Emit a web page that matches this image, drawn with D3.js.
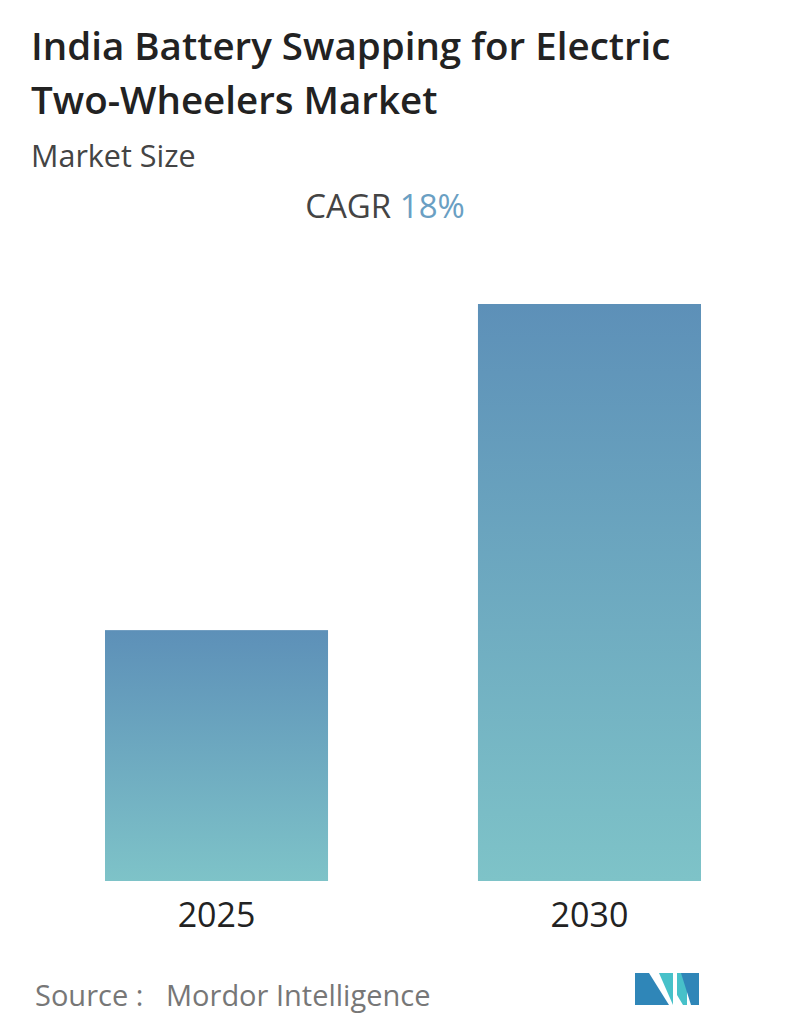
<!DOCTYPE html><html><head><meta charset="utf-8"><script src="https://cdn.jsdelivr.net/npm/d3@7"></script>
<style>body{margin:0;background:#fff}text{font-family:"Open Sans",sans-serif}</style></head><body>
<svg id="c" width="796" height="1034"></svg>
<script>
const categories=["2025","2030"];
const values=[1,2.3];
const svg=d3.select("#c");
const defs=svg.append("defs");
const g=defs.append("linearGradient").attr("id","gr").attr("x1",0).attr("y1",0).attr("x2",0).attr("y2",1);
g.append("stop").attr("offset","0%").attr("stop-color","#5d90b8");
g.append("stop").attr("offset","100%").attr("stop-color","#7ec3c8");
svg.append("text").attr("x",31).attr("y",60).attr("font-size",38.5).attr("font-weight",600).attr("fill","#222").text("India Battery Swapping for Electric");
svg.append("text").attr("x",31).attr("y",114).attr("font-size",38.5).attr("font-weight",600).attr("fill","#222").text("Two-Wheelers Market");
svg.append("text").attr("x",31).attr("y",167).attr("font-size",30.5).attr("fill","#444").text("Market Size");
const t=svg.append("text").attr("x",385).attr("y",218).attr("font-size",33).attr("text-anchor","middle");
t.append("tspan").attr("fill","#444").text("CAGR ");
t.append("tspan").attr("fill","#6a9fc3").text("18%");
const x=d3.scaleBand().domain(categories).range([105,701]).paddingInner(0.402).paddingOuter(0);
const y=d3.scaleLinear().domain([0,2.3]).range([881,304]);
svg.selectAll("rect").data(values).join("rect").attr("x",(d,i)=>x(categories[i])).attr("width",x.bandwidth())
 .attr("y",d=>y(d)).attr("height",d=>881-y(d)).attr("fill","url(#gr)");
svg.selectAll(".xl").data(categories).join("text").attr("x",d=>x(d)+x.bandwidth()/2).attr("y",927)
 .attr("text-anchor","middle").attr("font-size",34).attr("fill","#222").text(d=>d);
svg.append("text").attr("x",35).attr("y",1006).attr("font-size",29).attr("fill","#777").text("Source :");
svg.append("text").attr("x",166).attr("y",1006).attr("font-size",29).attr("fill","#777").text("Mordor Intelligence");
const L=svg.append("g").attr("transform","translate(635,973)");
L.append("path").attr("d","M0,0H14L34,32H0Z").attr("fill","#2f86b8");
L.append("path").attr("d","M24,0H38V32Z").attr("fill","#47c1c9");
L.append("path").attr("d","M42,0H52V32H48L42,22Z").attr("fill","#47c1c9");
L.append("path").attr("d","M46,0H64V32H56Z").attr("fill","#2f86b8");
</script></body></html>
